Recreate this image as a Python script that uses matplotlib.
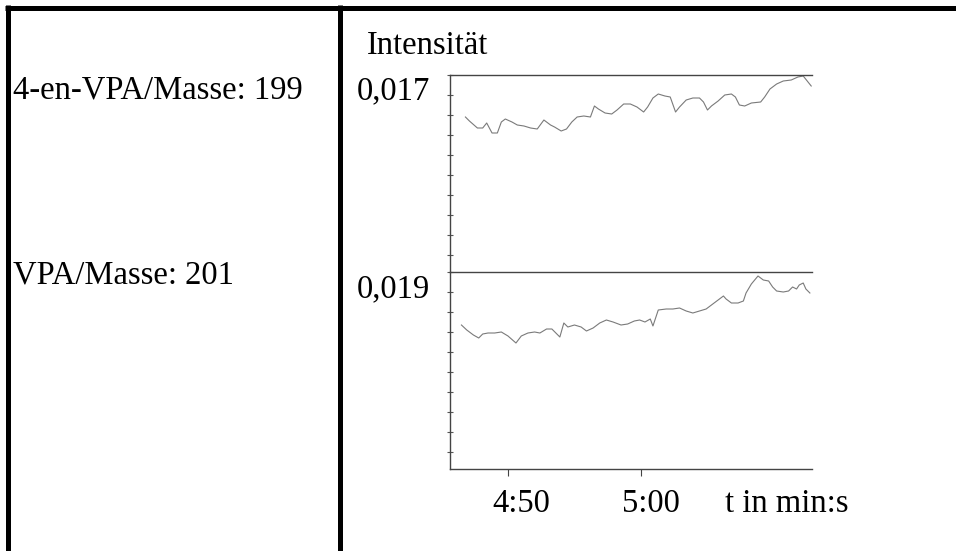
import numpy as np
import matplotlib.pyplot as plt
from matplotlib.lines import Line2D

# time in seconds (4:50 = 290 s)
t_199 = [286.8, 287.1, 287.7, 288.1, 288.4, 288.8, 289.2, 289.5, 289.8, 290.3,
         290.7, 291.2, 291.7, 292.2, 292.7, 293.2, 293.5, 294.0, 294.4, 294.8,
         295.2, 295.7, 296.2, 296.5, 296.8, 297.3, 297.8, 298.2, 298.7, 299.2,
         299.7, 300.2, 300.5, 300.9, 301.3, 301.8, 302.2, 302.6, 302.9, 303.4,
         303.9, 304.4, 304.7, 305.0, 305.3, 305.8, 306.3, 306.8, 307.1, 307.4,
         307.8, 308.3, 309.0, 309.3, 309.7, 310.2, 310.7, 311.3, 311.8, 312.2,
         312.5, 312.8]
i_199 = [0.01658, 0.01654, 0.01647, 0.01647, 0.01652, 0.01642, 0.01642, 0.01653,
         0.01656, 0.01653, 0.01650, 0.01649, 0.01647, 0.01646, 0.01655, 0.01650,
         0.01648, 0.01644, 0.01646, 0.01653, 0.01658, 0.01659, 0.01658, 0.01669,
         0.01666, 0.01662, 0.01661, 0.01665, 0.01671, 0.01671, 0.01668, 0.01663,
         0.01668, 0.01677, 0.01681, 0.01679, 0.01678, 0.01663, 0.01668, 0.01675,
         0.01677, 0.01677, 0.01673, 0.01665, 0.01669, 0.01674, 0.01680, 0.01681,
         0.01678, 0.01670, 0.01669, 0.01672, 0.01673, 0.01678, 0.01686, 0.01691,
         0.01694, 0.01695, 0.01698, 0.01699, 0.01694, 0.01689]

t_201 = [286.5, 286.9, 287.4, 287.8, 288.1, 288.5, 289.0, 289.5, 290.0, 290.6,
         291.0, 291.5, 292.0, 292.4, 292.9, 293.3, 293.9, 294.2, 294.5, 295.0,
         295.5, 295.9, 296.4, 296.9, 297.4, 297.9, 298.5, 299.0, 299.5, 299.9,
         300.3, 300.7, 300.9, 301.3, 301.9, 302.4, 302.9, 303.4, 303.9, 304.4,
         304.9, 305.4, 306.2, 306.4, 306.8, 307.3, 307.7, 307.9, 308.3, 308.8,
         309.2, 309.6, 309.9, 310.2, 310.7, 311.1, 311.4, 311.7, 311.9, 312.2,
         312.4, 312.7]
i_201 = [0.01847, 0.01842, 0.01837, 0.01834, 0.01838, 0.01839, 0.01839, 0.01840,
         0.01836, 0.01829, 0.01836, 0.01839, 0.01840, 0.01839, 0.01843, 0.01843,
         0.01835, 0.01849, 0.01845, 0.01847, 0.01845, 0.01841, 0.01844, 0.01849,
         0.01852, 0.01850, 0.01847, 0.01848, 0.01851, 0.01852, 0.01850, 0.01853,
         0.01846, 0.01862, 0.01863, 0.01863, 0.01864, 0.01861, 0.01859, 0.01861,
         0.01863, 0.01868, 0.01876, 0.01873, 0.01869, 0.01869, 0.01871, 0.01879,
         0.01888, 0.01896, 0.01892, 0.01891, 0.01885, 0.01881, 0.01880, 0.01881,
         0.01885, 0.01883, 0.01887, 0.01889, 0.01883, 0.01879]

x_ticks = [290, 300]
x_tick_labels = ['4:50', '5:00']
y_top_labels = ['0,017', '0,019']
row_labels = ['4-en-VPA/Masse: 199', 'VPA/Masse: 201']

W, H = 956, 551
plt.rcParams['font.family'] = ['Liberation Serif', 'DejaVu Serif']
FS = 23.5
fig = plt.figure(figsize=(W / 100, H / 100), dpi=100)


def fx(px):
    return px / W


def fy(py):
    return 1 - py / H


# table frame
frame = dict(color='black', lw=3.6, solid_capstyle='butt')
fig.add_artist(Line2D([fx(5), 1], [fy(7.5), fy(7.5)], **frame))
fig.add_artist(Line2D([fx(7.5), fx(7.5)], [fy(5), 0], **frame))
fig.add_artist(Line2D([fx(340), fx(340)], [fy(5), 0], **frame))

left, right = fx(450), fx(812)
ax1 = fig.add_axes([left, fy(272), right - left, fy(75) - fy(272)])
ax2 = fig.add_axes([left, fy(469), right - left, fy(272) - fy(469)])

xlim = (285.64, 312.86)
for ax, t, v, top in [(ax1, t_199, i_199, 0.017), (ax2, t_201, i_201, 0.019)]:
    ax.plot(t, v, color='#7a7a7a', lw=0.8)
    ax.set_xlim(*xlim)
    ax.set_ylim(top - 0.00197, top)
    ax.set_yticks(np.arange(top, top - 0.00197, -0.0002))
    ax.set_yticklabels([])
    ax.tick_params(axis='y', direction='inout', length=4, width=0.8, color='#555555')
    ax.spines['right'].set_visible(False)
    for s in ['left', 'top', 'bottom']:
        ax.spines[s].set_color('#444444')
        ax.spines[s].set_linewidth(1.0)
    ax.patch.set_alpha(0)

ax1.spines['bottom'].set_visible(False)
ax1.set_xticks([])
ax2.set_xticks(x_ticks)
ax2.set_xticklabels([])
ax2.tick_params(axis='x', direction='out', length=5, width=0.8, color='#444444')

# texts
fig.text(fx(367), fy(54), 'Intensität', fontsize=FS, va='baseline')
fig.text(fx(13), fy(99), row_labels[0], fontsize=FS, va='baseline')
fig.text(fx(13), fy(283), row_labels[1], fontsize=FS, va='baseline')
fig.text(fx(357), fy(99), y_top_labels[0], fontsize=FS, va='baseline')
fig.text(fx(357), fy(297), y_top_labels[1], fontsize=FS, va='baseline')
fig.text(fx(492), fy(512), x_tick_labels[0], fontsize=FS, va='baseline')
fig.text(fx(622), fy(512), x_tick_labels[1], fontsize=FS, va='baseline')
fig.text(fx(725), fy(512), 't in min:s', fontsize=FS, va='baseline')

fig.savefig('out.png', dpi=100)
